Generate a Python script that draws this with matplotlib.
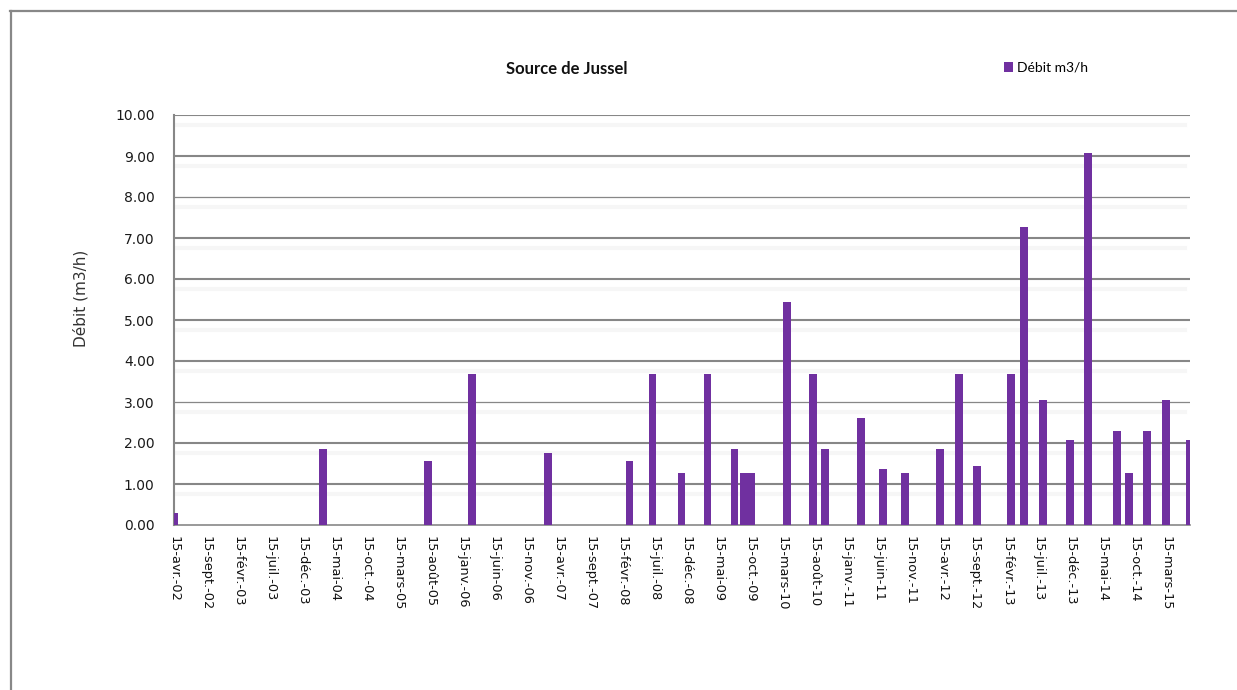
import matplotlib
matplotlib.use("Agg")
import matplotlib.pyplot as plt
import matplotlib.dates as mdates
from matplotlib.lines import Line2D
from matplotlib import font_manager
import pandas as pd

# ---- data ----
dates = ['2002-04-15', '2004-03-25', '2005-08-06', '2006-03-03', '2007-02-28',
         '2008-03-20', '2008-07-07', '2008-11-22', '2009-03-26', '2009-08-01',
         '2009-09-13', '2009-10-17', '2010-04-06', '2010-08-08', '2010-10-04',
         '2011-03-24', '2011-07-07', '2011-10-20', '2012-04-03', '2012-07-03',
         '2012-09-26', '2013-03-07', '2013-05-08', '2013-08-06', '2013-12-13',
         '2014-03-09', '2014-07-25', '2014-09-20', '2014-12-14', '2015-03-15',
         '2015-07-07']
values = [0.30, 1.85, 1.55, 3.68, 1.76,
          1.55, 3.68, 1.26, 3.68, 1.85,
          1.26, 1.26, 5.45, 3.68, 1.85,
          2.60, 1.36, 1.26, 1.85, 3.68,
          1.44, 3.68, 7.26, 3.05, 2.07,
          9.07, 2.29, 1.26, 2.29, 3.05,
          2.07]
tick_dates = ['2002-04-15', '2002-09-15', '2003-02-15', '2003-07-15', '2003-12-15',
              '2004-05-15', '2004-10-15', '2005-03-15', '2005-08-15', '2006-01-15',
              '2006-06-15', '2006-11-15', '2007-04-15', '2007-09-15', '2008-02-15',
              '2008-07-15', '2008-12-15', '2009-05-15', '2009-10-15', '2010-03-15',
              '2010-08-15', '2011-01-15', '2011-06-15', '2011-11-15', '2012-04-15',
              '2012-09-15', '2013-02-15', '2013-07-15', '2013-12-15', '2014-05-15',
              '2014-10-15', '2015-03-15']
tick_labels = ['15-avr.-02', '15-sept.-02', '15-févr.-03', '15-juil.-03', '15-déc.-03',
               '15-mai-04', '15-oct.-04', '15-mars-05', '15-août-05', '15-janv.-06',
               '15-juin-06', '15-nov.-06', '15-avr.-07', '15-sept.-07', '15-févr.-08',
               '15-juil.-08', '15-déc.-08', '15-mai-09', '15-oct.-09', '15-mars-10',
               '15-août-10', '15-janv.-11', '15-juin-11', '15-nov.-11', '15-avr.-12',
               '15-sept.-12', '15-févr.-13', '15-juil.-13', '15-déc.-13', '15-mai-14',
               '15-oct.-14', '15-mars-15']
y_ticks = [0, 1, 2, 3, 4, 5, 6, 7, 8, 9, 10]
title = "Source de Jussel"
series_name = "Débit m3/h"
y_label = "Débit (m3/h)"

plt.rcParams['font.family'] = ['DejaVu Sans']

available = {f.name for f in font_manager.fontManager.ttflist}
title_font = "Liberation Sans Narrow" if "Liberation Sans Narrow" in available else "Lato"
title_size = 12.5 if title_font == "Liberation Sans Narrow" else 12

W, H = 1237, 690
fig = plt.figure(figsize=(W / 100, H / 100), dpi=100)
fig.patch.set_facecolor("white")

L, R, T, B = 174, 1190, 115, 525
ax = fig.add_axes([L / W, 1 - B / H, (R - L) / W, (B - T) / H])

x = mdates.date2num(pd.to_datetime(dates))
bar_color = "#7030A0"

# gridlines with faint shadow bands
grid_lw = {10: 2.0, 9: 2.0, 8: 1.2, 7: 2.0, 6: 2.0, 5: 2.0, 4: 2.0, 3: 1.2, 2: 2.0, 1: 2.0}
for yv in y_ticks[1:]:
    ax.axhline(yv - 0.24, color="#f6f6f6", lw=3.0, zorder=0.5, xmax=0.995)
    ax.axhline(yv, color="#878787", lw=grid_lw[yv] * 0.75, zorder=1)

ax.bar(x, values, width=37, color=bar_color, zorder=3, label=series_name)

ax.set_xlim(mdates.date2num(pd.Timestamp(dates[0])), mdates.date2num(pd.Timestamp(dates[-1])))
ax.set_ylim(0, 10)

tx = mdates.date2num(pd.to_datetime(tick_dates))
ax.set_xticks(tx)
ax.set_xticklabels(tick_labels, rotation=270, ha="center", va="top",
                   fontsize=9.3, color="#111111")
ax.set_yticks(y_ticks)
ax.set_yticklabels([f"{v:.2f}" for v in y_ticks], fontsize=10, color="#1a1a1a")
ax.tick_params(axis="x", length=0, pad=8)
ax.tick_params(axis="y", length=0, pad=14)

for s in ["top", "right"]:
    ax.spines[s].set_visible(False)
ax.spines["left"].set_color("#878787")
ax.spines["left"].set_linewidth(1.5)
ax.spines["bottom"].set_color("#878787")
ax.spines["bottom"].set_linewidth(1.2)
ax.set_facecolor("white")

# texts
fig.text(567 / W, 1 - 69 / H, title, ha="center", va="center",
         fontsize=title_size, fontweight="bold", family=title_font, color="#111111")
fig.text(81 / W, 1 - 298 / H, y_label, ha="center", va="center", rotation=90,
         fontsize=11, color="#333333")

fig.legend(loc="center left", bbox_to_anchor=(998 / W, 1 - 68 / H), frameon=False,
           handlelength=0.7, handleheight=0.7, handletextpad=0.3,
           prop={"size": 10, "family": "Lato"}, borderaxespad=0)

# outer chart border (top and left)
fig.add_artist(Line2D([10 / W, 1.0], [1 - 11 / H, 1 - 11 / H], transform=fig.transFigure,
                      color="#888888", lw=1.6))
fig.add_artist(Line2D([11 / W, 11 / W], [0, 1 - 11 / H], transform=fig.transFigure,
                      color="#888888", lw=1.6))

fig.savefig("out.png", dpi=100, facecolor="white")
